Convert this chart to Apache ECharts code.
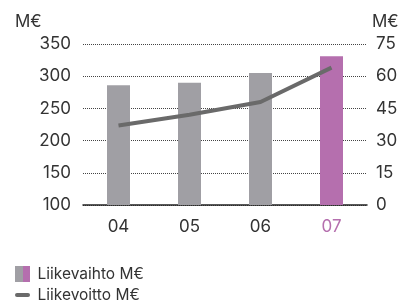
<!DOCTYPE html>
<html><head><meta charset="utf-8">
<script src="https://cdn.jsdelivr.net/npm/echarts@6/dist/echarts.min.js"></script>
<style>html,body{margin:0;padding:0;background:#fff}#c{width:404px;height:302px}</style>
</head><body><div id="c"></div>
<script>
var categories = ['04', '05', '06', '07'];
var liikevaihto = [286, 290, 305, 331];
var liikevoitto = [37, 42, 48, 64];
var leftTicks = [100, 150, 200, 250, 300, 350];
var rightTicks = [0, 15, 30, 45, 60, 75];

var gray = '#a09fa4', purple = '#b56fae', txt = '#333333';
var font = 'Inter';
var chart = echarts.init(document.getElementById('c'));
chart.setOption({
  animation: false,
  textStyle: {fontFamily: font},
  grid: {left: 83, right: 37, top: 44, bottom: 97},
  xAxis: {
    type: 'category', data: categories,
    axisLine: {lineStyle: {color: '#222', width: 1.5}},
    axisTick: {show: false},
    axisLabel: {fontSize: 17, margin: 13, fontFamily: font,
      color: function (v, i) { return i === 3 ? purple : txt; }}
  },
  yAxis: [{
    type: 'value', min: leftTicks[0], max: leftTicks[leftTicks.length-1], interval: 50,
    axisLine: {show: false}, axisTick: {show: false},
    axisLabel: {fontSize: 17, color: txt, margin: 12, fontFamily: font},
    splitLine: {lineStyle: {type: [1, 1], color: '#444', width: 1}}
  }, {
    type: 'value', min: rightTicks[0], max: rightTicks[rightTicks.length-1], interval: 15,
    axisLine: {show: false}, axisTick: {show: false},
    axisLabel: {fontSize: 17, color: txt, margin: 9, fontFamily: font},
    splitLine: {show: false}
  }],
  series: [{
    type: 'bar', data: liikevaihto.map(function (v, i) {
      return {value: v, itemStyle: {color: i === 3 ? purple : gray}};
    }),
    barWidth: 23, yAxisIndex: 0
  }, {
    type: 'line', data: liikevoitto, yAxisIndex: 1,
    showSymbol: false, symbol: 'none',
    lineStyle: {color: '#6a6a6a', width: 4}
  }],
  graphic: [
    {type: 'text', left: 15, top: 13, style: {text: 'M€', fontSize: 17, fill: txt, fontFamily: font}},
    {type: 'text', left: 372, top: 13, style: {text: 'M€', fontSize: 17, fill: txt, fontFamily: font}},
    {type: 'rect', shape: {x: 15, y: 266, width: 8, height: 16}, style: {fill: gray}},
    {type: 'rect', shape: {x: 23, y: 266, width: 7, height: 16}, style: {fill: purple}},
    {type: 'text', style: {x: 37.5, y: 274.5, text: 'Liikevaihto M€', fontSize: 15.5, fill: txt, fontFamily: font, verticalAlign: 'middle'}},
    {type: 'rect', shape: {x: 15, y: 293, width: 15, height: 4, r: 2}, style: {fill: '#6a6a6a'}},
    {type: 'text', style: {x: 37.5, y: 295, text: 'Liikevoitto M€', fontSize: 15.5, fill: txt, fontFamily: font, verticalAlign: 'middle'}}
  ]
});
</script></body></html>
